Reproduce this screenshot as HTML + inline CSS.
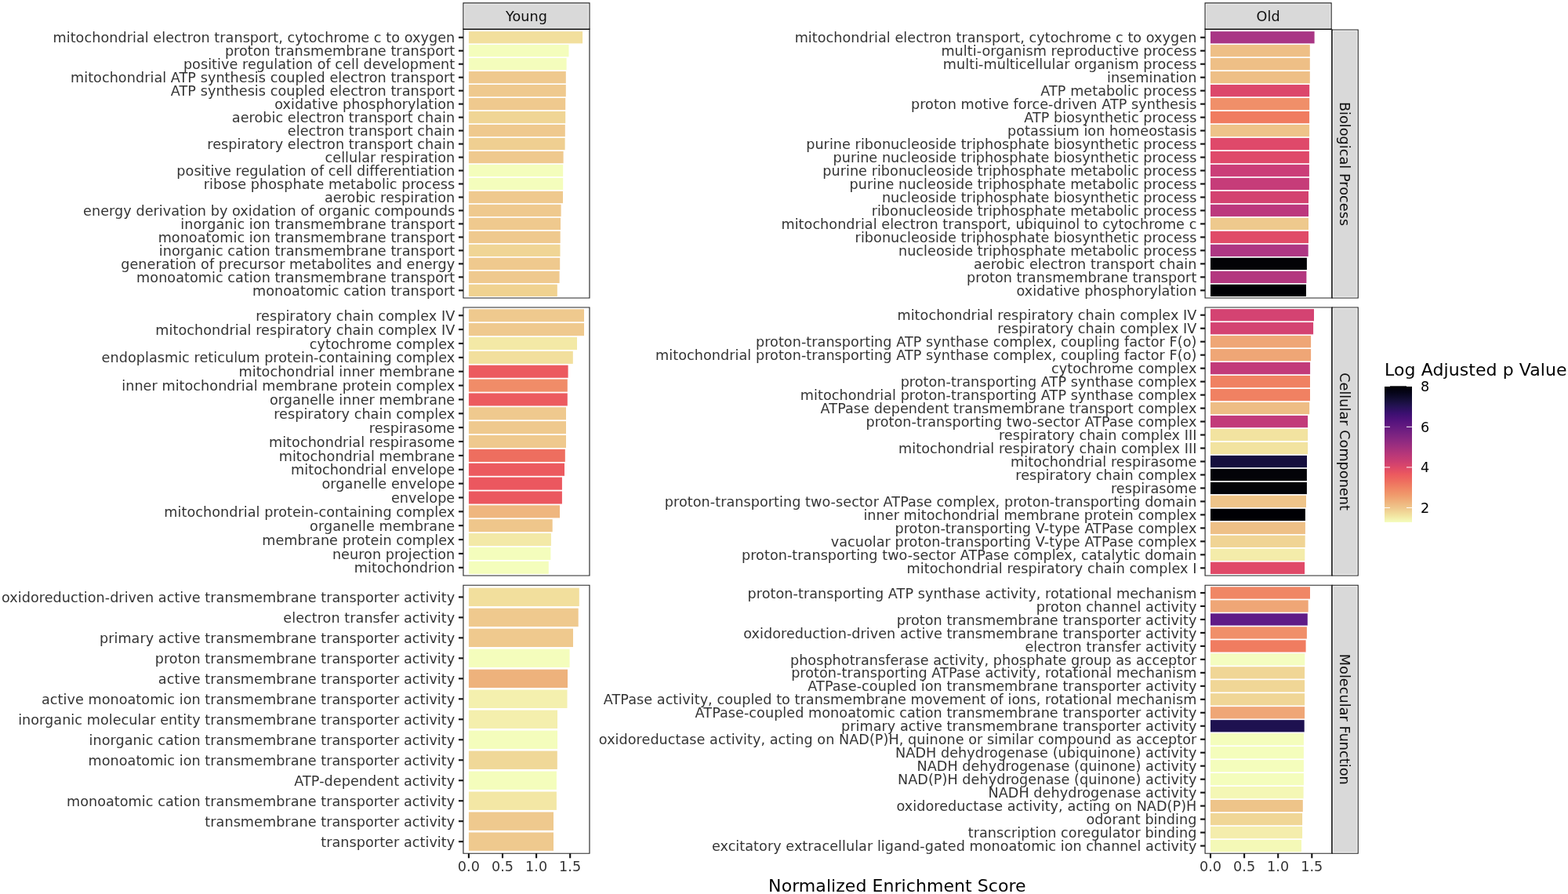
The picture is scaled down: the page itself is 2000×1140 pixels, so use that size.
<!DOCTYPE html>
<html lang="en">
<head>
<meta charset="utf-8">
<title>Normalized Enrichment Score by GO term - Young vs Old</title>
<style>
html,body{margin:0;padding:0;background:#ffffff;}
body{width:2000px;height:1140px;overflow:hidden;}
svg{display:block;font-family:"DejaVu Sans","Liberation Sans",sans-serif;}
svg text{white-space:pre;}
</style>
</head>
<body>
<svg width="2000" height="1140" viewBox="0 0 2000 1140" role="img" aria-label="Normalized Enrichment Score of GO terms, Young vs Old">
<rect x="0" y="0" width="2000" height="1140" fill="#ffffff"/>
<defs>
<clipPath id="cp00"><rect x="590.37" y="37.47" width="162.16" height="343.13"/></clipPath>
<clipPath id="cp01"><rect x="590.37" y="391.47" width="162.16" height="343.13"/></clipPath>
<clipPath id="cp02"><rect x="590.37" y="745.72" width="162.16" height="343.13"/></clipPath>
<clipPath id="cs0"><rect x="590.37" y="3.37" width="162.16" height="34.26"/></clipPath>
<clipPath id="cp10"><rect x="1536.52" y="37.47" width="162.16" height="343.13"/></clipPath>
<clipPath id="cp11"><rect x="1536.52" y="391.47" width="162.16" height="343.13"/></clipPath>
<clipPath id="cp12"><rect x="1536.52" y="745.72" width="162.16" height="343.13"/></clipPath>
<clipPath id="cs1"><rect x="1536.52" y="3.37" width="162.16" height="34.26"/></clipPath>
<clipPath id="cr0"><rect x="1698.52" y="37.47" width="34.26" height="343.13"/></clipPath>
<clipPath id="cr1"><rect x="1698.52" y="391.47" width="34.26" height="343.13"/></clipPath>
<clipPath id="cr2"><rect x="1698.52" y="745.72" width="34.26" height="343.13"/></clipPath>
<linearGradient id="cb" x1="0" y1="0" x2="0" y2="1">
<stop offset="0.0" stop-color="#000004"/>
<stop offset="0.05" stop-color="#06051A"/>
<stop offset="0.1" stop-color="#140E36"/>
<stop offset="0.15" stop-color="#251255"/>
<stop offset="0.2" stop-color="#3B0F70"/>
<stop offset="0.25" stop-color="#51127C"/>
<stop offset="0.3" stop-color="#641A80"/>
<stop offset="0.35" stop-color="#782281"/>
<stop offset="0.4" stop-color="#8C2981"/>
<stop offset="0.45" stop-color="#A1307E"/>
<stop offset="0.5" stop-color="#B73779"/>
<stop offset="0.55" stop-color="#CA3E72"/>
<stop offset="0.6" stop-color="#DE4968"/>
<stop offset="0.65" stop-color="#EC5A5F"/>
<stop offset="0.7" stop-color="#EE6E5F"/>
<stop offset="0.75" stop-color="#F08564"/>
<stop offset="0.8" stop-color="#F09A6C"/>
<stop offset="0.85" stop-color="#EFB27C"/>
<stop offset="0.9" stop-color="#EFC98E"/>
<stop offset="0.95" stop-color="#F2E3A0"/>
<stop offset="1.0" stop-color="#F4FDBC"/>
</linearGradient>
</defs>
<g class="panel">
<g clip-path="url(#cp00)">
<rect x="597.9" y="40.10" width="145.15" height="15.28" fill="#F2DF9D"/>
<rect x="597.9" y="57.08" width="127.60" height="15.28" fill="#F4FDBC"/>
<rect x="597.9" y="74.05" width="124.70" height="15.28" fill="#F4FDBC"/>
<rect x="597.9" y="91.03" width="123.90" height="15.28" fill="#EFC98E"/>
<rect x="597.9" y="108.01" width="123.90" height="15.28" fill="#EFC98E"/>
<rect x="597.9" y="124.99" width="123.30" height="15.28" fill="#EFC98E"/>
<rect x="597.9" y="141.97" width="123.30" height="15.28" fill="#F0D595"/>
<rect x="597.9" y="158.95" width="122.90" height="15.28" fill="#EFC98E"/>
<rect x="597.9" y="175.93" width="122.70" height="15.28" fill="#EFCF91"/>
<rect x="597.9" y="192.91" width="120.70" height="15.28" fill="#EFC98E"/>
<rect x="597.9" y="209.88" width="120.30" height="15.28" fill="#F4FDBC"/>
<rect x="597.9" y="226.86" width="120.30" height="15.28" fill="#F4FDBC"/>
<rect x="597.9" y="243.84" width="120.10" height="15.28" fill="#EFC98E"/>
<rect x="597.9" y="260.82" width="117.70" height="15.28" fill="#EFC98E"/>
<rect x="597.9" y="277.80" width="117.10" height="15.28" fill="#EFC98E"/>
<rect x="597.9" y="294.78" width="116.80" height="15.28" fill="#EFC98E"/>
<rect x="597.9" y="311.76" width="116.60" height="15.28" fill="#F0D595"/>
<rect x="597.9" y="328.73" width="116.30" height="15.28" fill="#EFC98E"/>
<rect x="597.9" y="345.71" width="115.70" height="15.28" fill="#EFC98E"/>
<rect x="597.9" y="362.69" width="112.90" height="15.28" fill="#F0D290"/>
<path d="M590.45 37.55 V380.52 H752.45 V37.55" fill="none" stroke="#262626" stroke-width="2.13" stroke-linejoin="miter"/>
</g>
<g class="yaxis" font-size="17.6" fill="#343434" text-anchor="end" letter-spacing="0.06">
<line x1="584.95" x2="590.95" y1="47.74" y2="47.74" stroke="#141414" stroke-width="2.13"/>
<text x="580.25" y="54.35">mitochondrial electron transport, cytochrome c to oxygen</text>
<line x1="584.95" x2="590.95" y1="64.72" y2="64.72" stroke="#141414" stroke-width="2.13"/>
<text x="580.25" y="71.33">proton transmembrane transport</text>
<line x1="584.95" x2="590.95" y1="81.69" y2="81.69" stroke="#141414" stroke-width="2.13"/>
<text x="580.25" y="88.31">positive regulation of cell development</text>
<line x1="584.95" x2="590.95" y1="98.67" y2="98.67" stroke="#141414" stroke-width="2.13"/>
<text x="580.25" y="105.29">mitochondrial ATP synthesis coupled electron transport</text>
<line x1="584.95" x2="590.95" y1="115.65" y2="115.65" stroke="#141414" stroke-width="2.13"/>
<text x="580.25" y="122.27">ATP synthesis coupled electron transport</text>
<line x1="584.95" x2="590.95" y1="132.63" y2="132.63" stroke="#141414" stroke-width="2.13"/>
<text x="580.25" y="139.25">oxidative phosphorylation</text>
<line x1="584.95" x2="590.95" y1="149.61" y2="149.61" stroke="#141414" stroke-width="2.13"/>
<text x="580.25" y="156.22">aerobic electron transport chain</text>
<line x1="584.95" x2="590.95" y1="166.59" y2="166.59" stroke="#141414" stroke-width="2.13"/>
<text x="580.25" y="173.20">electron transport chain</text>
<line x1="584.95" x2="590.95" y1="183.57" y2="183.57" stroke="#141414" stroke-width="2.13"/>
<text x="580.25" y="190.18">respiratory electron transport chain</text>
<line x1="584.95" x2="590.95" y1="200.55" y2="200.55" stroke="#141414" stroke-width="2.13"/>
<text x="580.25" y="207.16">cellular respiration</text>
<line x1="584.95" x2="590.95" y1="217.52" y2="217.52" stroke="#141414" stroke-width="2.13"/>
<text x="580.25" y="224.14">positive regulation of cell differentiation</text>
<line x1="584.95" x2="590.95" y1="234.50" y2="234.50" stroke="#141414" stroke-width="2.13"/>
<text x="580.25" y="241.12">ribose phosphate metabolic process</text>
<line x1="584.95" x2="590.95" y1="251.48" y2="251.48" stroke="#141414" stroke-width="2.13"/>
<text x="580.25" y="258.10">aerobic respiration</text>
<line x1="584.95" x2="590.95" y1="268.46" y2="268.46" stroke="#141414" stroke-width="2.13"/>
<text x="580.25" y="275.08">energy derivation by oxidation of organic compounds</text>
<line x1="584.95" x2="590.95" y1="285.44" y2="285.44" stroke="#141414" stroke-width="2.13"/>
<text x="580.25" y="292.05">inorganic ion transmembrane transport</text>
<line x1="584.95" x2="590.95" y1="302.42" y2="302.42" stroke="#141414" stroke-width="2.13"/>
<text x="580.25" y="309.03">monoatomic ion transmembrane transport</text>
<line x1="584.95" x2="590.95" y1="319.40" y2="319.40" stroke="#141414" stroke-width="2.13"/>
<text x="580.25" y="326.01">inorganic cation transmembrane transport</text>
<line x1="584.95" x2="590.95" y1="336.38" y2="336.38" stroke="#141414" stroke-width="2.13"/>
<text x="580.25" y="342.99">generation of precursor metabolites and energy</text>
<line x1="584.95" x2="590.95" y1="353.35" y2="353.35" stroke="#141414" stroke-width="2.13"/>
<text x="580.25" y="359.97">monoatomic cation transmembrane transport</text>
<line x1="584.95" x2="590.95" y1="370.33" y2="370.33" stroke="#141414" stroke-width="2.13"/>
<text x="580.25" y="376.95">monoatomic cation transport</text>
</g>
</g>
<g class="panel">
<g clip-path="url(#cp01)">
<rect x="597.9" y="394.23" width="147.10" height="16.08" fill="#EFC98E"/>
<rect x="597.9" y="412.09" width="147.10" height="16.08" fill="#EFC98E"/>
<rect x="597.9" y="429.96" width="138.10" height="16.08" fill="#F3E9A6"/>
<rect x="597.9" y="447.82" width="132.90" height="16.08" fill="#F2DF9D"/>
<rect x="597.9" y="465.68" width="126.70" height="16.08" fill="#EC5A5F"/>
<rect x="597.9" y="483.54" width="125.90" height="16.08" fill="#F08C68"/>
<rect x="597.9" y="501.41" width="125.90" height="16.08" fill="#EC5A5F"/>
<rect x="597.9" y="519.27" width="124.10" height="16.08" fill="#EFC98E"/>
<rect x="597.9" y="537.13" width="124.10" height="16.08" fill="#EFC98E"/>
<rect x="597.9" y="555.00" width="124.10" height="16.08" fill="#EFC98E"/>
<rect x="597.9" y="572.86" width="122.90" height="16.08" fill="#EE6E5F"/>
<rect x="597.9" y="590.72" width="122.10" height="16.08" fill="#EC5A5F"/>
<rect x="597.9" y="608.59" width="119.00" height="16.08" fill="#EB575F"/>
<rect x="597.9" y="626.45" width="119.00" height="16.08" fill="#EB575F"/>
<rect x="597.9" y="644.31" width="116.10" height="16.08" fill="#EFB67F"/>
<rect x="597.9" y="662.17" width="106.80" height="16.08" fill="#EFC68B"/>
<rect x="597.9" y="680.04" width="105.00" height="16.08" fill="#F3E9A7"/>
<rect x="597.9" y="697.90" width="104.50" height="16.08" fill="#F4FDBC"/>
<rect x="597.9" y="715.76" width="101.90" height="16.08" fill="#F4FDBC"/>
<path d="M590.45 391.55 V734.52 H752.45 V391.55 Z" fill="none" stroke="#262626" stroke-width="2.13" stroke-linejoin="miter"/>
</g>
<g class="yaxis" font-size="17.6" fill="#343434" text-anchor="end" letter-spacing="0.06">
<line x1="584.95" x2="590.95" y1="402.27" y2="402.27" stroke="#141414" stroke-width="2.13"/>
<text x="580.25" y="408.88">respiratory chain complex IV</text>
<line x1="584.95" x2="590.95" y1="420.13" y2="420.13" stroke="#141414" stroke-width="2.13"/>
<text x="580.25" y="426.75">mitochondrial respiratory chain complex IV</text>
<line x1="584.95" x2="590.95" y1="437.99" y2="437.99" stroke="#141414" stroke-width="2.13"/>
<text x="580.25" y="444.61">cytochrome complex</text>
<line x1="584.95" x2="590.95" y1="455.86" y2="455.86" stroke="#141414" stroke-width="2.13"/>
<text x="580.25" y="462.47">endoplasmic reticulum protein-containing complex</text>
<line x1="584.95" x2="590.95" y1="473.72" y2="473.72" stroke="#141414" stroke-width="2.13"/>
<text x="580.25" y="480.34">mitochondrial inner membrane</text>
<line x1="584.95" x2="590.95" y1="491.58" y2="491.58" stroke="#141414" stroke-width="2.13"/>
<text x="580.25" y="498.20">inner mitochondrial membrane protein complex</text>
<line x1="584.95" x2="590.95" y1="509.45" y2="509.45" stroke="#141414" stroke-width="2.13"/>
<text x="580.25" y="516.06">organelle inner membrane</text>
<line x1="584.95" x2="590.95" y1="527.31" y2="527.31" stroke="#141414" stroke-width="2.13"/>
<text x="580.25" y="533.92">respiratory chain complex</text>
<line x1="584.95" x2="590.95" y1="545.17" y2="545.17" stroke="#141414" stroke-width="2.13"/>
<text x="580.25" y="551.79">respirasome</text>
<line x1="584.95" x2="590.95" y1="563.04" y2="563.04" stroke="#141414" stroke-width="2.13"/>
<text x="580.25" y="569.65">mitochondrial respirasome</text>
<line x1="584.95" x2="590.95" y1="580.90" y2="580.90" stroke="#141414" stroke-width="2.13"/>
<text x="580.25" y="587.51">mitochondrial membrane</text>
<line x1="584.95" x2="590.95" y1="598.76" y2="598.76" stroke="#141414" stroke-width="2.13"/>
<text x="580.25" y="605.38">mitochondrial envelope</text>
<line x1="584.95" x2="590.95" y1="616.62" y2="616.62" stroke="#141414" stroke-width="2.13"/>
<text x="580.25" y="623.24">organelle envelope</text>
<line x1="584.95" x2="590.95" y1="634.49" y2="634.49" stroke="#141414" stroke-width="2.13"/>
<text x="580.25" y="641.10">envelope</text>
<line x1="584.95" x2="590.95" y1="652.35" y2="652.35" stroke="#141414" stroke-width="2.13"/>
<text x="580.25" y="658.97">mitochondrial protein-containing complex</text>
<line x1="584.95" x2="590.95" y1="670.21" y2="670.21" stroke="#141414" stroke-width="2.13"/>
<text x="580.25" y="676.83">organelle membrane</text>
<line x1="584.95" x2="590.95" y1="688.08" y2="688.08" stroke="#141414" stroke-width="2.13"/>
<text x="580.25" y="694.69">membrane protein complex</text>
<line x1="584.95" x2="590.95" y1="705.94" y2="705.94" stroke="#141414" stroke-width="2.13"/>
<text x="580.25" y="712.55">neuron projection</text>
<line x1="584.95" x2="590.95" y1="723.80" y2="723.80" stroke="#141414" stroke-width="2.13"/>
<text x="580.25" y="730.42">mitochondrion</text>
</g>
</g>
<g class="panel">
<g clip-path="url(#cp02)">
<rect x="597.9" y="749.70" width="140.90" height="23.38" fill="#F2DF9D"/>
<rect x="597.9" y="775.68" width="139.80" height="23.38" fill="#EFC98E"/>
<rect x="597.9" y="801.66" width="133.10" height="23.38" fill="#EFC98E"/>
<rect x="597.9" y="827.65" width="128.70" height="23.38" fill="#F4FDBC"/>
<rect x="597.9" y="853.63" width="126.10" height="23.38" fill="#EEB27C"/>
<rect x="597.9" y="879.61" width="125.60" height="23.38" fill="#F4F0AE"/>
<rect x="597.9" y="905.59" width="113.10" height="23.38" fill="#F4EFAD"/>
<rect x="597.9" y="931.58" width="113.10" height="23.38" fill="#F4FDBC"/>
<rect x="597.9" y="957.56" width="112.90" height="23.38" fill="#F0D898"/>
<rect x="597.9" y="983.54" width="112.00" height="23.38" fill="#F4FDBC"/>
<rect x="597.9" y="1009.52" width="112.00" height="23.38" fill="#F3E7A5"/>
<rect x="597.9" y="1035.51" width="108.10" height="23.38" fill="#EFC98E"/>
<rect x="597.9" y="1061.49" width="108.10" height="23.38" fill="#EFC98E"/>
<path d="M590.45 745.8 V1088.77 H752.45 V745.8 Z" fill="none" stroke="#262626" stroke-width="2.13" stroke-linejoin="miter"/>
</g>
<g class="yaxis" font-size="17.6" fill="#343434" text-anchor="end" letter-spacing="0.06">
<line x1="584.95" x2="590.95" y1="761.39" y2="761.39" stroke="#141414" stroke-width="2.13"/>
<text x="580.25" y="768.00">oxidoreduction-driven active transmembrane transporter activity</text>
<line x1="584.95" x2="590.95" y1="787.37" y2="787.37" stroke="#141414" stroke-width="2.13"/>
<text x="580.25" y="793.99">electron transfer activity</text>
<line x1="584.95" x2="590.95" y1="813.35" y2="813.35" stroke="#141414" stroke-width="2.13"/>
<text x="580.25" y="819.97">primary active transmembrane transporter activity</text>
<line x1="584.95" x2="590.95" y1="839.34" y2="839.34" stroke="#141414" stroke-width="2.13"/>
<text x="580.25" y="845.95">proton transmembrane transporter activity</text>
<line x1="584.95" x2="590.95" y1="865.32" y2="865.32" stroke="#141414" stroke-width="2.13"/>
<text x="580.25" y="871.94">active transmembrane transporter activity</text>
<line x1="584.95" x2="590.95" y1="891.30" y2="891.30" stroke="#141414" stroke-width="2.13"/>
<text x="580.25" y="897.92">active monoatomic ion transmembrane transporter activity</text>
<line x1="584.95" x2="590.95" y1="917.28" y2="917.28" stroke="#141414" stroke-width="2.13"/>
<text x="580.25" y="923.90">inorganic molecular entity transmembrane transporter activity</text>
<line x1="584.95" x2="590.95" y1="943.27" y2="943.27" stroke="#141414" stroke-width="2.13"/>
<text x="580.25" y="949.88">inorganic cation transmembrane transporter activity</text>
<line x1="584.95" x2="590.95" y1="969.25" y2="969.25" stroke="#141414" stroke-width="2.13"/>
<text x="580.25" y="975.87">monoatomic ion transmembrane transporter activity</text>
<line x1="584.95" x2="590.95" y1="995.23" y2="995.23" stroke="#141414" stroke-width="2.13"/>
<text x="580.25" y="1001.85">ATP-dependent activity</text>
<line x1="584.95" x2="590.95" y1="1021.22" y2="1021.22" stroke="#141414" stroke-width="2.13"/>
<text x="580.25" y="1027.83">monoatomic cation transmembrane transporter activity</text>
<line x1="584.95" x2="590.95" y1="1047.20" y2="1047.20" stroke="#141414" stroke-width="2.13"/>
<text x="580.25" y="1053.81">transmembrane transporter activity</text>
<line x1="584.95" x2="590.95" y1="1073.18" y2="1073.18" stroke="#141414" stroke-width="2.13"/>
<text x="580.25" y="1079.80">transporter activity</text>
</g>
</g>
<g clip-path="url(#cs0)"><rect x="590.45" y="3.45" width="162.0" height="34.10" fill="#d9d9d9"/><path d="M590.45 37.55 V3.45 H752.45 V37.55" fill="none" stroke="#262626" stroke-width="2.13"/></g>
<rect x="592.2" y="5.2" width="158.5" height="30.80" fill="none" stroke="#ffffff" stroke-opacity="0.6" stroke-width="1.1"/>
<line x1="590.35" x2="752.55" y1="37.28" y2="37.28" stroke="#0a0a0a" stroke-width="1.5"/>
<text x="671.45" y="26.8" font-size="17.6" fill="#0d0d0d" text-anchor="middle" letter-spacing="0.06">Young</text>
<g class="xaxis" font-size="17.6" fill="#343434" text-anchor="middle" letter-spacing="0.06">
<line x1="597.90" x2="597.90" y1="1088.27" y2="1094.27" stroke="#141414" stroke-width="2.13"/>
<text x="597.90" y="1111.0">0.0</text>
<line x1="641.00" x2="641.00" y1="1088.27" y2="1094.27" stroke="#141414" stroke-width="2.13"/>
<text x="641.00" y="1111.0">0.5</text>
<line x1="684.10" x2="684.10" y1="1088.27" y2="1094.27" stroke="#141414" stroke-width="2.13"/>
<text x="684.10" y="1111.0">1.0</text>
<line x1="727.20" x2="727.20" y1="1088.27" y2="1094.27" stroke="#141414" stroke-width="2.13"/>
<text x="727.20" y="1111.0">1.5</text>
</g>
<g class="panel">
<g clip-path="url(#cp10)">
<rect x="1544.0" y="40.10" width="132.60" height="15.28" fill="#A93685"/>
<rect x="1544.0" y="57.08" width="126.80" height="15.28" fill="#EEBF86"/>
<rect x="1544.0" y="74.05" width="126.80" height="15.28" fill="#EEBF86"/>
<rect x="1544.0" y="91.03" width="126.80" height="15.28" fill="#EEBF86"/>
<rect x="1544.0" y="108.01" width="126.20" height="15.28" fill="#DC476B"/>
<rect x="1544.0" y="124.99" width="126.20" height="15.28" fill="#F08F69"/>
<rect x="1544.0" y="141.97" width="126.10" height="15.28" fill="#F07C60"/>
<rect x="1544.0" y="158.95" width="126.10" height="15.28" fill="#EEC389"/>
<rect x="1544.0" y="175.93" width="125.90" height="15.28" fill="#DF496A"/>
<rect x="1544.0" y="192.91" width="125.90" height="15.28" fill="#DF496A"/>
<rect x="1544.0" y="209.88" width="125.90" height="15.28" fill="#CB3E78"/>
<rect x="1544.0" y="226.86" width="125.90" height="15.28" fill="#C63C79"/>
<rect x="1544.0" y="243.84" width="125.00" height="15.28" fill="#D34270"/>
<rect x="1544.0" y="260.82" width="125.00" height="15.28" fill="#BC387D"/>
<rect x="1544.0" y="277.80" width="125.00" height="15.28" fill="#EEC98D"/>
<rect x="1544.0" y="294.78" width="125.00" height="15.28" fill="#E04B68"/>
<rect x="1544.0" y="311.76" width="124.70" height="15.28" fill="#AE3783"/>
<rect x="1544.0" y="328.73" width="122.90" height="15.28" fill="#030306"/>
<rect x="1544.0" y="345.71" width="122.40" height="15.28" fill="#B3377F"/>
<rect x="1544.0" y="362.69" width="122.00" height="15.28" fill="#000004"/>
<path d="M1536.6 37.55 V380.52 H1698.6" fill="none" stroke="#262626" stroke-width="2.13" stroke-linejoin="miter"/>
</g>
<g class="yaxis" font-size="17.6" fill="#343434" text-anchor="end" letter-spacing="0.06">
<line x1="1531.10" x2="1537.10" y1="47.74" y2="47.74" stroke="#141414" stroke-width="2.13"/>
<text x="1526.40" y="54.35">mitochondrial electron transport, cytochrome c to oxygen</text>
<line x1="1531.10" x2="1537.10" y1="64.72" y2="64.72" stroke="#141414" stroke-width="2.13"/>
<text x="1526.40" y="71.33">multi-organism reproductive process</text>
<line x1="1531.10" x2="1537.10" y1="81.69" y2="81.69" stroke="#141414" stroke-width="2.13"/>
<text x="1526.40" y="88.31">multi-multicellular organism process</text>
<line x1="1531.10" x2="1537.10" y1="98.67" y2="98.67" stroke="#141414" stroke-width="2.13"/>
<text x="1526.40" y="105.29">insemination</text>
<line x1="1531.10" x2="1537.10" y1="115.65" y2="115.65" stroke="#141414" stroke-width="2.13"/>
<text x="1526.40" y="122.27">ATP metabolic process</text>
<line x1="1531.10" x2="1537.10" y1="132.63" y2="132.63" stroke="#141414" stroke-width="2.13"/>
<text x="1526.40" y="139.25">proton motive force-driven ATP synthesis</text>
<line x1="1531.10" x2="1537.10" y1="149.61" y2="149.61" stroke="#141414" stroke-width="2.13"/>
<text x="1526.40" y="156.22">ATP biosynthetic process</text>
<line x1="1531.10" x2="1537.10" y1="166.59" y2="166.59" stroke="#141414" stroke-width="2.13"/>
<text x="1526.40" y="173.20">potassium ion homeostasis</text>
<line x1="1531.10" x2="1537.10" y1="183.57" y2="183.57" stroke="#141414" stroke-width="2.13"/>
<text x="1526.40" y="190.18">purine ribonucleoside triphosphate biosynthetic process</text>
<line x1="1531.10" x2="1537.10" y1="200.55" y2="200.55" stroke="#141414" stroke-width="2.13"/>
<text x="1526.40" y="207.16">purine nucleoside triphosphate biosynthetic process</text>
<line x1="1531.10" x2="1537.10" y1="217.52" y2="217.52" stroke="#141414" stroke-width="2.13"/>
<text x="1526.40" y="224.14">purine ribonucleoside triphosphate metabolic process</text>
<line x1="1531.10" x2="1537.10" y1="234.50" y2="234.50" stroke="#141414" stroke-width="2.13"/>
<text x="1526.40" y="241.12">purine nucleoside triphosphate metabolic process</text>
<line x1="1531.10" x2="1537.10" y1="251.48" y2="251.48" stroke="#141414" stroke-width="2.13"/>
<text x="1526.40" y="258.10">nucleoside triphosphate biosynthetic process</text>
<line x1="1531.10" x2="1537.10" y1="268.46" y2="268.46" stroke="#141414" stroke-width="2.13"/>
<text x="1526.40" y="275.08">ribonucleoside triphosphate metabolic process</text>
<line x1="1531.10" x2="1537.10" y1="285.44" y2="285.44" stroke="#141414" stroke-width="2.13"/>
<text x="1526.40" y="292.05">mitochondrial electron transport, ubiquinol to cytochrome c</text>
<line x1="1531.10" x2="1537.10" y1="302.42" y2="302.42" stroke="#141414" stroke-width="2.13"/>
<text x="1526.40" y="309.03">ribonucleoside triphosphate biosynthetic process</text>
<line x1="1531.10" x2="1537.10" y1="319.40" y2="319.40" stroke="#141414" stroke-width="2.13"/>
<text x="1526.40" y="326.01">nucleoside triphosphate metabolic process</text>
<line x1="1531.10" x2="1537.10" y1="336.38" y2="336.38" stroke="#141414" stroke-width="2.13"/>
<text x="1526.40" y="342.99">aerobic electron transport chain</text>
<line x1="1531.10" x2="1537.10" y1="353.35" y2="353.35" stroke="#141414" stroke-width="2.13"/>
<text x="1526.40" y="359.97">proton transmembrane transport</text>
<line x1="1531.10" x2="1537.10" y1="370.33" y2="370.33" stroke="#141414" stroke-width="2.13"/>
<text x="1526.40" y="376.95">oxidative phosphorylation</text>
</g>
</g>
<g class="panel">
<g clip-path="url(#cp11)">
<rect x="1544.0" y="394.10" width="132.00" height="15.28" fill="#D44372"/>
<rect x="1544.0" y="411.08" width="131.10" height="15.28" fill="#D44372"/>
<rect x="1544.0" y="428.05" width="128.10" height="15.28" fill="#EFA676"/>
<rect x="1544.0" y="445.03" width="128.10" height="15.28" fill="#EFA676"/>
<rect x="1544.0" y="462.01" width="127.10" height="15.28" fill="#C23B7A"/>
<rect x="1544.0" y="478.99" width="127.00" height="15.28" fill="#F08162"/>
<rect x="1544.0" y="495.97" width="127.00" height="15.28" fill="#F08162"/>
<rect x="1544.0" y="512.95" width="126.20" height="15.28" fill="#EEBD85"/>
<rect x="1544.0" y="529.93" width="124.10" height="15.28" fill="#C23B7A"/>
<rect x="1544.0" y="546.91" width="124.10" height="15.28" fill="#F2E3A0"/>
<rect x="1544.0" y="563.88" width="124.10" height="15.28" fill="#F2E3A0"/>
<rect x="1544.0" y="580.86" width="123.00" height="15.28" fill="#150F3E"/>
<rect x="1544.0" y="597.84" width="122.90" height="15.28" fill="#030308"/>
<rect x="1544.0" y="614.82" width="122.90" height="15.28" fill="#030308"/>
<rect x="1544.0" y="631.80" width="122.00" height="15.28" fill="#EEC489"/>
<rect x="1544.0" y="648.78" width="120.90" height="15.28" fill="#000004"/>
<rect x="1544.0" y="665.76" width="120.90" height="15.28" fill="#EEC087"/>
<rect x="1544.0" y="682.73" width="120.70" height="15.28" fill="#F0D494"/>
<rect x="1544.0" y="699.71" width="120.30" height="15.28" fill="#F4ECAA"/>
<rect x="1544.0" y="716.69" width="120.10" height="15.28" fill="#E04A68"/>
<path d="M1698.6 391.55 H1536.6 V734.52 H1698.6" fill="none" stroke="#262626" stroke-width="2.13" stroke-linejoin="miter"/>
</g>
<g class="yaxis" font-size="17.6" fill="#343434" text-anchor="end" letter-spacing="0.06">
<line x1="1531.10" x2="1537.10" y1="401.74" y2="401.74" stroke="#141414" stroke-width="2.13"/>
<text x="1526.40" y="408.35">mitochondrial respiratory chain complex IV</text>
<line x1="1531.10" x2="1537.10" y1="418.72" y2="418.72" stroke="#141414" stroke-width="2.13"/>
<text x="1526.40" y="425.33">respiratory chain complex IV</text>
<line x1="1531.10" x2="1537.10" y1="435.69" y2="435.69" stroke="#141414" stroke-width="2.13"/>
<text x="1526.40" y="442.31">proton-transporting ATP synthase complex, coupling factor F(o)</text>
<line x1="1531.10" x2="1537.10" y1="452.67" y2="452.67" stroke="#141414" stroke-width="2.13"/>
<text x="1526.40" y="459.29">mitochondrial proton-transporting ATP synthase complex, coupling factor F(o)</text>
<line x1="1531.10" x2="1537.10" y1="469.65" y2="469.65" stroke="#141414" stroke-width="2.13"/>
<text x="1526.40" y="476.27">cytochrome complex</text>
<line x1="1531.10" x2="1537.10" y1="486.63" y2="486.63" stroke="#141414" stroke-width="2.13"/>
<text x="1526.40" y="493.25">proton-transporting ATP synthase complex</text>
<line x1="1531.10" x2="1537.10" y1="503.61" y2="503.61" stroke="#141414" stroke-width="2.13"/>
<text x="1526.40" y="510.22">mitochondrial proton-transporting ATP synthase complex</text>
<line x1="1531.10" x2="1537.10" y1="520.59" y2="520.59" stroke="#141414" stroke-width="2.13"/>
<text x="1526.40" y="527.20">ATPase dependent transmembrane transport complex</text>
<line x1="1531.10" x2="1537.10" y1="537.57" y2="537.57" stroke="#141414" stroke-width="2.13"/>
<text x="1526.40" y="544.18">proton-transporting two-sector ATPase complex</text>
<line x1="1531.10" x2="1537.10" y1="554.55" y2="554.55" stroke="#141414" stroke-width="2.13"/>
<text x="1526.40" y="561.16">respiratory chain complex III</text>
<line x1="1531.10" x2="1537.10" y1="571.52" y2="571.52" stroke="#141414" stroke-width="2.13"/>
<text x="1526.40" y="578.14">mitochondrial respiratory chain complex III</text>
<line x1="1531.10" x2="1537.10" y1="588.50" y2="588.50" stroke="#141414" stroke-width="2.13"/>
<text x="1526.40" y="595.12">mitochondrial respirasome</text>
<line x1="1531.10" x2="1537.10" y1="605.48" y2="605.48" stroke="#141414" stroke-width="2.13"/>
<text x="1526.40" y="612.10">respiratory chain complex</text>
<line x1="1531.10" x2="1537.10" y1="622.46" y2="622.46" stroke="#141414" stroke-width="2.13"/>
<text x="1526.40" y="629.08">respirasome</text>
<line x1="1531.10" x2="1537.10" y1="639.44" y2="639.44" stroke="#141414" stroke-width="2.13"/>
<text x="1526.40" y="646.05">proton-transporting two-sector ATPase complex, proton-transporting domain</text>
<line x1="1531.10" x2="1537.10" y1="656.42" y2="656.42" stroke="#141414" stroke-width="2.13"/>
<text x="1526.40" y="663.03">inner mitochondrial membrane protein complex</text>
<line x1="1531.10" x2="1537.10" y1="673.40" y2="673.40" stroke="#141414" stroke-width="2.13"/>
<text x="1526.40" y="680.01">proton-transporting V-type ATPase complex</text>
<line x1="1531.10" x2="1537.10" y1="690.38" y2="690.38" stroke="#141414" stroke-width="2.13"/>
<text x="1526.40" y="696.99">vacuolar proton-transporting V-type ATPase complex</text>
<line x1="1531.10" x2="1537.10" y1="707.35" y2="707.35" stroke="#141414" stroke-width="2.13"/>
<text x="1526.40" y="713.97">proton-transporting two-sector ATPase complex, catalytic domain</text>
<line x1="1531.10" x2="1537.10" y1="724.33" y2="724.33" stroke="#141414" stroke-width="2.13"/>
<text x="1526.40" y="730.95">mitochondrial respiratory chain complex I</text>
</g>
</g>
<g class="panel">
<g clip-path="url(#cp12)">
<rect x="1544.0" y="748.35" width="127.00" height="15.28" fill="#F08665"/>
<rect x="1544.0" y="765.33" width="124.70" height="15.28" fill="#EFA676"/>
<rect x="1544.0" y="782.30" width="123.80" height="15.28" fill="#5F1C87"/>
<rect x="1544.0" y="799.28" width="122.90" height="15.28" fill="#F08F69"/>
<rect x="1544.0" y="816.26" width="121.60" height="15.28" fill="#F07C60"/>
<rect x="1544.0" y="833.24" width="120.30" height="15.28" fill="#F4FDC0"/>
<rect x="1544.0" y="850.22" width="120.10" height="15.28" fill="#F0D696"/>
<rect x="1544.0" y="867.20" width="120.10" height="15.28" fill="#F0D696"/>
<rect x="1544.0" y="884.18" width="120.10" height="15.28" fill="#F0D696"/>
<rect x="1544.0" y="901.16" width="120.10" height="15.28" fill="#EFA676"/>
<rect x="1544.0" y="918.13" width="119.70" height="15.28" fill="#1E1150"/>
<rect x="1544.0" y="935.11" width="118.90" height="15.28" fill="#F4FDBC"/>
<rect x="1544.0" y="952.09" width="118.90" height="15.28" fill="#F4FDBC"/>
<rect x="1544.0" y="969.07" width="118.90" height="15.28" fill="#F4FDBC"/>
<rect x="1544.0" y="986.05" width="118.90" height="15.28" fill="#F4FDBC"/>
<rect x="1544.0" y="1003.03" width="118.60" height="15.28" fill="#F4F7B5"/>
<rect x="1544.0" y="1020.01" width="117.80" height="15.28" fill="#EEC489"/>
<rect x="1544.0" y="1036.98" width="117.10" height="15.28" fill="#F0D696"/>
<rect x="1544.0" y="1053.96" width="117.10" height="15.28" fill="#F4EDAC"/>
<rect x="1544.0" y="1070.94" width="116.00" height="15.28" fill="#F4F9B7"/>
<path d="M1698.6 745.8 H1536.6 V1088.77 H1698.6" fill="none" stroke="#262626" stroke-width="2.13" stroke-linejoin="miter"/>
</g>
<g class="yaxis" font-size="17.6" fill="#343434" text-anchor="end" letter-spacing="0.06">
<line x1="1531.10" x2="1537.10" y1="755.99" y2="755.99" stroke="#141414" stroke-width="2.13"/>
<text x="1526.40" y="762.60">proton-transporting ATP synthase activity, rotational mechanism</text>
<line x1="1531.10" x2="1537.10" y1="772.97" y2="772.97" stroke="#141414" stroke-width="2.13"/>
<text x="1526.40" y="779.58">proton channel activity</text>
<line x1="1531.10" x2="1537.10" y1="789.94" y2="789.94" stroke="#141414" stroke-width="2.13"/>
<text x="1526.40" y="796.56">proton transmembrane transporter activity</text>
<line x1="1531.10" x2="1537.10" y1="806.92" y2="806.92" stroke="#141414" stroke-width="2.13"/>
<text x="1526.40" y="813.54">oxidoreduction-driven active transmembrane transporter activity</text>
<line x1="1531.10" x2="1537.10" y1="823.90" y2="823.90" stroke="#141414" stroke-width="2.13"/>
<text x="1526.40" y="830.52">electron transfer activity</text>
<line x1="1531.10" x2="1537.10" y1="840.88" y2="840.88" stroke="#141414" stroke-width="2.13"/>
<text x="1526.40" y="847.50">phosphotransferase activity, phosphate group as acceptor</text>
<line x1="1531.10" x2="1537.10" y1="857.86" y2="857.86" stroke="#141414" stroke-width="2.13"/>
<text x="1526.40" y="864.47">proton-transporting ATPase activity, rotational mechanism</text>
<line x1="1531.10" x2="1537.10" y1="874.84" y2="874.84" stroke="#141414" stroke-width="2.13"/>
<text x="1526.40" y="881.45">ATPase-coupled ion transmembrane transporter activity</text>
<line x1="1531.10" x2="1537.10" y1="891.82" y2="891.82" stroke="#141414" stroke-width="2.13"/>
<text x="1526.40" y="898.43">ATPase activity, coupled to transmembrane movement of ions, rotational mechanism</text>
<line x1="1531.10" x2="1537.10" y1="908.80" y2="908.80" stroke="#141414" stroke-width="2.13"/>
<text x="1526.40" y="915.41">ATPase-coupled monoatomic cation transmembrane transporter activity</text>
<line x1="1531.10" x2="1537.10" y1="925.77" y2="925.77" stroke="#141414" stroke-width="2.13"/>
<text x="1526.40" y="932.39">primary active transmembrane transporter activity</text>
<line x1="1531.10" x2="1537.10" y1="942.75" y2="942.75" stroke="#141414" stroke-width="2.13"/>
<text x="1526.40" y="949.37">oxidoreductase activity, acting on NAD(P)H, quinone or similar compound as acceptor</text>
<line x1="1531.10" x2="1537.10" y1="959.73" y2="959.73" stroke="#141414" stroke-width="2.13"/>
<text x="1526.40" y="966.35">NADH dehydrogenase (ubiquinone) activity</text>
<line x1="1531.10" x2="1537.10" y1="976.71" y2="976.71" stroke="#141414" stroke-width="2.13"/>
<text x="1526.40" y="983.33">NADH dehydrogenase (quinone) activity</text>
<line x1="1531.10" x2="1537.10" y1="993.69" y2="993.69" stroke="#141414" stroke-width="2.13"/>
<text x="1526.40" y="1000.30">NAD(P)H dehydrogenase (quinone) activity</text>
<line x1="1531.10" x2="1537.10" y1="1010.67" y2="1010.67" stroke="#141414" stroke-width="2.13"/>
<text x="1526.40" y="1017.28">NADH dehydrogenase activity</text>
<line x1="1531.10" x2="1537.10" y1="1027.65" y2="1027.65" stroke="#141414" stroke-width="2.13"/>
<text x="1526.40" y="1034.26">oxidoreductase activity, acting on NAD(P)H</text>
<line x1="1531.10" x2="1537.10" y1="1044.63" y2="1044.63" stroke="#141414" stroke-width="2.13"/>
<text x="1526.40" y="1051.24">odorant binding</text>
<line x1="1531.10" x2="1537.10" y1="1061.60" y2="1061.60" stroke="#141414" stroke-width="2.13"/>
<text x="1526.40" y="1068.22">transcription coregulator binding</text>
<line x1="1531.10" x2="1537.10" y1="1078.58" y2="1078.58" stroke="#141414" stroke-width="2.13"/>
<text x="1526.40" y="1085.20">excitatory extracellular ligand-gated monoatomic ion channel activity</text>
</g>
</g>
<g clip-path="url(#cs1)"><rect x="1536.6" y="3.45" width="162.0" height="34.10" fill="#d9d9d9"/><path d="M1536.6 37.55 V3.45 H1698.6 V37.55" fill="none" stroke="#262626" stroke-width="2.13"/></g>
<rect x="1538.35" y="5.2" width="158.5" height="30.80" fill="none" stroke="#ffffff" stroke-opacity="0.6" stroke-width="1.1"/>
<line x1="1536.5" x2="1698.70" y1="37.28" y2="37.28" stroke="#0a0a0a" stroke-width="1.5"/>
<text x="1617.60" y="26.8" font-size="17.6" fill="#0d0d0d" text-anchor="middle" letter-spacing="0.06">Old</text>
<g class="xaxis" font-size="17.6" fill="#343434" text-anchor="middle" letter-spacing="0.06">
<line x1="1544.00" x2="1544.00" y1="1088.27" y2="1094.27" stroke="#141414" stroke-width="2.13"/>
<text x="1544.00" y="1111.0">0.0</text>
<line x1="1587.10" x2="1587.10" y1="1088.27" y2="1094.27" stroke="#141414" stroke-width="2.13"/>
<text x="1587.10" y="1111.0">0.5</text>
<line x1="1630.20" x2="1630.20" y1="1088.27" y2="1094.27" stroke="#141414" stroke-width="2.13"/>
<text x="1630.20" y="1111.0">1.0</text>
<line x1="1673.30" x2="1673.30" y1="1088.27" y2="1094.27" stroke="#141414" stroke-width="2.13"/>
<text x="1673.30" y="1111.0">1.5</text>
</g>
<g clip-path="url(#cr0)"><rect x="1698.6" y="37.55" width="34.1" height="342.97" fill="#d9d9d9"/><path d="M1698.6 37.55 H1732.70 V380.52 H1698.6" fill="none" stroke="#262626" stroke-width="2.13"/></g>
<rect x="1700.45" y="39.30" width="30.50" height="339.47" fill="none" stroke="#ffffff" stroke-opacity="0.6" stroke-width="1.1"/>
<line x1="1698.90" x2="1698.90" y1="37.45" y2="380.62" stroke="#0a0a0a" stroke-width="1.5"/>
<text transform="translate(1715.65,209.04) rotate(90)" x="0" y="6.42" font-size="17.6" fill="#0d0d0d" text-anchor="middle" letter-spacing="0.06">Biological Process</text>
<g clip-path="url(#cr1)"><rect x="1698.6" y="391.55" width="34.1" height="342.97" fill="#d9d9d9"/><path d="M1698.6 391.55 H1732.70 V734.52 H1698.6" fill="none" stroke="#262626" stroke-width="2.13"/></g>
<rect x="1700.45" y="393.30" width="30.50" height="339.47" fill="none" stroke="#ffffff" stroke-opacity="0.6" stroke-width="1.1"/>
<line x1="1698.90" x2="1698.90" y1="391.45" y2="734.62" stroke="#0a0a0a" stroke-width="1.5"/>
<text transform="translate(1715.65,563.04) rotate(90)" x="0" y="6.42" font-size="17.6" fill="#0d0d0d" text-anchor="middle" letter-spacing="0.06">Cellular Component</text>
<g clip-path="url(#cr2)"><rect x="1698.6" y="745.8" width="34.1" height="342.97" fill="#d9d9d9"/><path d="M1698.6 745.8 H1732.70 V1088.77 H1698.6" fill="none" stroke="#262626" stroke-width="2.13"/></g>
<rect x="1700.45" y="747.55" width="30.50" height="339.47" fill="none" stroke="#ffffff" stroke-opacity="0.6" stroke-width="1.1"/>
<line x1="1698.90" x2="1698.90" y1="745.70" y2="1088.87" stroke="#0a0a0a" stroke-width="1.5"/>
<text transform="translate(1715.65,917.28) rotate(90)" x="0" y="6.42" font-size="17.6" fill="#0d0d0d" text-anchor="middle" letter-spacing="0.06">Molecular Function</text>
<text x="1144.4" y="1137.0" font-size="22.0" fill="#000000" text-anchor="middle" letter-spacing="0.06">Normalized Enrichment Score</text>
<text x="1766.0" y="479.0" font-size="22.0" fill="#000000" letter-spacing="0.09">Log Adjusted p Value</text>
<rect x="1766.0" y="492.3" width="35.0" height="173.6" fill="url(#cb)"/>
<g font-size="17.6" fill="#000000">
<line x1="1766.0" x2="1773.00" y1="492.45" y2="492.45" stroke="#ffffff" stroke-width="1.07" stroke-opacity="0.9"/>
<line x1="1794.00" x2="1801.0" y1="492.45" y2="492.45" stroke="#ffffff" stroke-width="1.07" stroke-opacity="0.9"/>
<text x="1812.0" y="498.62">8</text>
<line x1="1766.0" x2="1773.00" y1="544.35" y2="544.35" stroke="#ffffff" stroke-width="1.07" stroke-opacity="0.9"/>
<line x1="1794.00" x2="1801.0" y1="544.35" y2="544.35" stroke="#ffffff" stroke-width="1.07" stroke-opacity="0.9"/>
<text x="1812.0" y="550.52">6</text>
<line x1="1766.0" x2="1773.00" y1="595.9" y2="595.9" stroke="#ffffff" stroke-width="1.07" stroke-opacity="0.9"/>
<line x1="1794.00" x2="1801.0" y1="595.9" y2="595.9" stroke="#ffffff" stroke-width="1.07" stroke-opacity="0.9"/>
<text x="1812.0" y="602.07">4</text>
<line x1="1766.0" x2="1773.00" y1="647.45" y2="647.45" stroke="#ffffff" stroke-width="1.07" stroke-opacity="0.9"/>
<line x1="1794.00" x2="1801.0" y1="647.45" y2="647.45" stroke="#ffffff" stroke-width="1.07" stroke-opacity="0.9"/>
<text x="1812.0" y="653.62">2</text>
</g>
</svg>
</body>
</html>
